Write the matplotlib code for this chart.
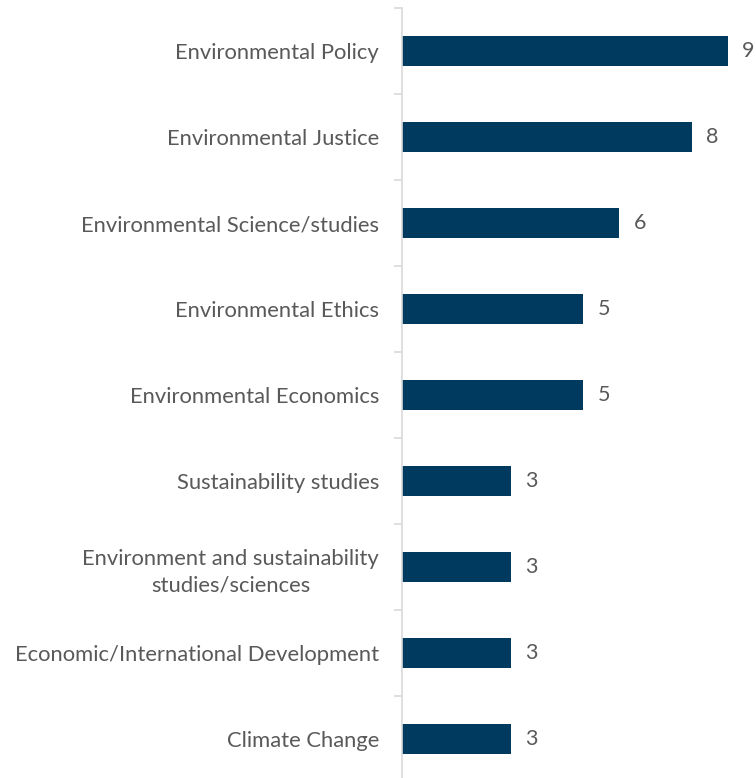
import matplotlib
matplotlib.use("Agg")
import matplotlib.pyplot as plt
import numpy as np

categories = [
    "Environmental Policy",
    "Environmental Justice",
    "Environmental Science/studies",
    "Environmental Ethics",
    "Environmental Economics",
    "Sustainability studies",
    "Environment and sustainability\nstudies/sciences",
    "Economic/International Development",
    "Climate Change",
]
counts = [9, 8, 6, 5, 5, 3, 3, 3, 3]

BAR = "#003A5F"
TEXT = "#595959"
AXIS = "#D9D9D9"

plt.rcParams["font.family"] = ["Lato", "DejaVu Sans"]

W, H = 756, 778
ROW = 86
top_px = 8
bot_px = top_px + ROW * len(categories)
fig = plt.figure(figsize=(W / 100, H / 100), dpi=100)
ax = fig.add_axes([402 / W, (H - bot_px) / H, 1 - 402 / W, (bot_px - top_px) / H])

y = np.arange(len(categories))
ax.barh(y, counts, height=0.36, color=BAR)
ax.set_ylim(len(categories) - 0.5, -0.5)
ax.set_xlim(0, (W - 402) / 36.2)

for yi, v in zip(y, counts):
    ax.text(v + 0.4, yi, str(v), va="center", ha="left", fontsize=15.5,
            color=TEXT, clip_on=False)

ax.set_yticks(y)
ax.set_yticklabels(categories, fontsize=15.8, color=TEXT, ha="right",
                   multialignment="center", linespacing=1.4)
ax.tick_params(axis="y", which="major", length=0, pad=16.5)
ax.set_yticks(np.arange(len(categories) + 1) - 0.5, minor=True)
ax.tick_params(axis="y", which="minor", length=6, width=1.2, color=AXIS)
ax.set_xticks([])

for s in ("top", "right", "bottom"):
    ax.spines[s].set_visible(False)
ax.spines["left"].set_color(AXIS)
ax.spines["left"].set_linewidth(1.2)

fig.savefig("out.png", dpi=100)
